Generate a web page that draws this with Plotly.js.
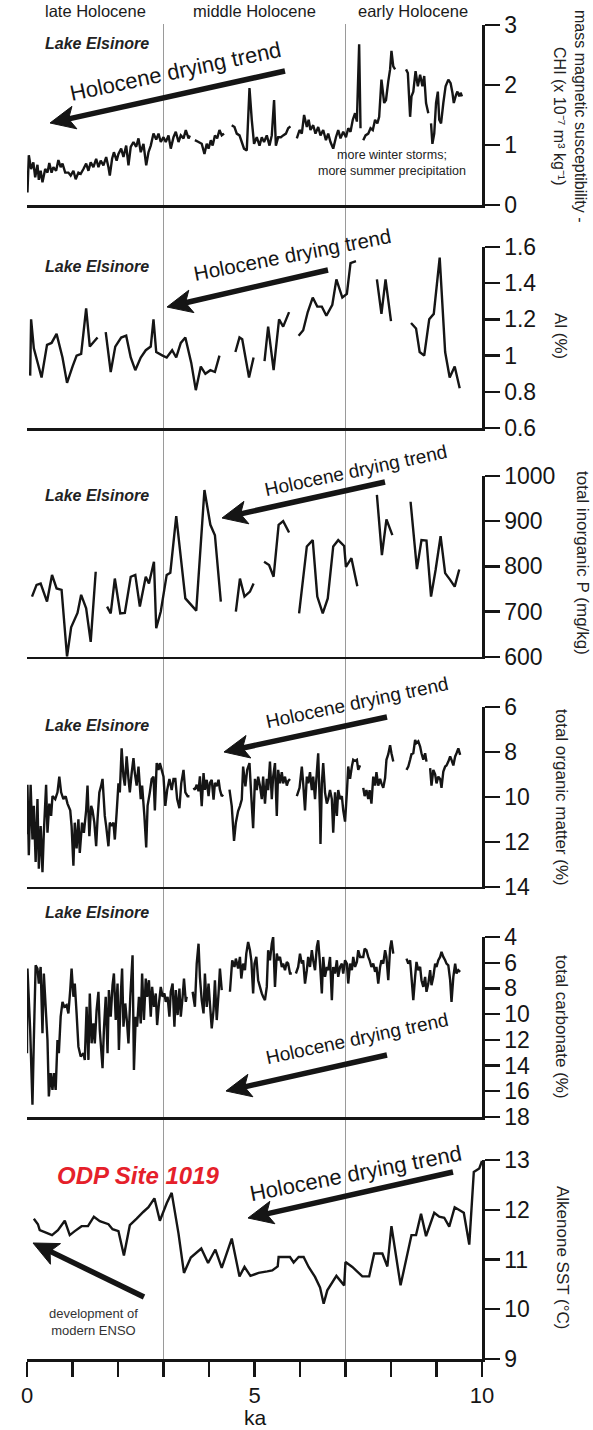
<!DOCTYPE html>
<html><head><meta charset="utf-8">
<script src="https://cdn.plot.ly/plotly-3.0.1.min.js"></script>
<style>html,body{margin:0;padding:0;background:#fff;}#chart{width:593px;height:1430px;}</style>
</head><body><div id="chart"></div>
<script>
// ---------- DATA (age in ka) ----------
const chiKa = [0.01,0.04,0.09,0.14,0.18,0.23,0.26,0.30,0.34,0.40,0.45,0.49,0.54,0.58,0.64,0.69,0.74,0.78,0.84,0.91,0.96,1.02,1.07,1.13,1.18,1.24,1.30,1.35,1.40,1.46,1.52,1.57,1.62,1.68,1.74,1.79,1.82,1.87,1.91,1.97,2.01,2.07,2.12,2.18,2.23,2.28,2.34,2.40,2.45,2.50,2.56,2.62,2.67,2.72,2.78,2.84,2.89,2.94,3.00,3.05,3.11,3.16,3.22,3.27,3.33,3.38,3.44,3.49,3.55,3.58,null,
 3.69,3.77,3.84,3.90,3.95,3.99,4.04,4.08,4.13,4.18,4.23,4.28,4.33,null,
 4.50,4.56,4.61,4.67,4.72,4.77,4.83,4.89,4.94,4.99,5.05,5.11,5.16,5.21,5.27,5.33,5.38,5.43,5.47,5.52,5.58,5.63,5.69,5.74,5.79,null,
 5.93,5.99,6.04,6.09,6.15,6.19,6.23,6.29,6.34,6.40,6.45,6.51,6.57,6.62,6.67,6.73,6.79,6.84,6.89,6.95,7.01,7.06,7.11,7.16,7.21,7.25,7.30,7.33,null,
 7.39,7.44,7.50,7.55,7.60,7.65,7.70,7.74,7.79,7.85,7.89,7.94,7.98,8.01,8.05,8.09,null,
 8.33,8.37,8.42,8.45,8.49,8.54,8.59,8.64,8.69,8.73,8.77,8.82,null,
 8.88,8.91,8.95,8.99,9.03,9.06,9.10,9.15,9.20,9.26,9.31,9.35,9.38,9.43,9.46,9.50,9.53,9.56];
const chiVal = [0.21,0.83,0.60,0.71,0.46,0.67,0.42,0.57,0.38,0.60,0.54,0.70,0.54,0.63,0.57,0.75,0.63,0.69,0.54,0.54,0.49,0.57,0.43,0.54,0.52,0.60,0.69,0.57,0.71,0.63,0.77,0.63,0.74,0.66,0.80,0.63,0.49,0.77,0.88,0.74,0.85,0.94,0.80,0.99,0.66,0.97,1.05,0.97,1.11,0.88,1.02,0.66,0.88,0.99,1.19,1.09,1.19,1.05,1.13,1.05,1.16,0.94,1.13,1.22,1.05,1.16,1.11,1.25,1.11,1.16,null,
 1.08,1.05,1.02,0.85,1.02,0.94,1.08,0.99,1.16,1.11,1.25,1.16,1.19,null,
 1.33,1.30,1.19,1.16,1.05,0.94,0.91,1.95,1.42,1.02,1.13,0.99,1.13,1.05,1.16,0.99,1.16,1.75,0.99,1.13,1.13,1.16,1.19,1.28,1.31,null,
 1.11,1.25,1.19,1.50,1.30,1.42,1.25,1.33,1.19,1.30,1.16,1.25,1.08,1.19,1.05,0.94,1.13,1.25,1.11,1.22,1.13,1.28,1.22,1.42,1.53,1.39,2.68,1.28,null,
 1.08,1.16,1.19,1.28,1.25,1.42,1.36,1.47,2.09,1.70,1.75,2.06,2.26,2.57,2.31,2.26,null,
 2.26,2.20,1.47,1.81,1.89,2.23,1.98,2.17,1.98,2.15,1.70,1.53,null,
 1.36,1.02,1.19,1.70,1.89,1.42,1.36,1.70,1.98,2.09,2.03,1.87,1.70,1.84,1.89,1.81,1.87,1.81];

const alKa = [0.07,0.09,0.15,0.32,0.44,0.54,0.65,0.78,0.88,1.00,1.09,1.19,1.30,1.38,1.55,null,
 1.73,1.84,1.94,2.07,2.18,2.28,2.38,2.50,2.61,2.72,2.78,2.84,2.98,3.07,3.19,3.28,3.38,3.48,3.61,3.71,3.82,3.92,4.03,4.13,4.23,null,
 4.58,4.67,4.73,4.88,4.98,null,
 5.22,5.30,5.42,5.54,5.63,5.76,null,
 5.97,6.07,6.17,6.28,6.38,6.48,6.58,6.71,6.80,6.93,7.03,7.11,7.23,null,
 7.69,7.79,7.88,8.00,null,
 8.44,8.55,8.63,8.73,8.84,8.94,9.07,9.19,9.29,9.40,9.51];
const alVal = [0.89,1.20,1.04,0.88,1.06,1.07,1.12,0.99,0.85,0.94,1.00,1.01,1.26,1.05,1.10,null,
 1.13,0.91,1.05,1.10,1.11,0.99,0.92,0.99,1.03,1.05,1.20,1.02,1.00,0.99,1.03,0.99,1.07,1.10,0.96,0.81,0.94,0.90,0.92,0.91,1.00,null,
 1.02,1.10,1.09,0.88,0.99,null,
 0.97,1.16,0.92,1.20,1.16,1.24,null,
 1.11,1.14,1.24,1.32,1.27,1.27,1.22,1.28,1.42,1.32,1.34,1.51,1.52,null,
 1.42,1.23,1.42,1.19,null,
 1.18,1.15,1.02,1.00,1.20,1.23,1.54,1.02,0.88,0.94,0.82];

const pKa = [0.11,0.21,0.30,0.44,0.55,0.65,0.76,0.88,0.97,1.11,1.19,1.30,1.40,1.51,null,
 1.76,1.84,1.93,2.05,2.15,2.28,2.38,2.48,2.61,2.68,2.79,2.84,2.94,3.07,3.15,3.28,3.48,3.72,3.90,4.03,4.13,4.26,null,
 4.59,4.68,4.78,4.90,4.98,null,
 5.21,5.32,5.42,5.53,5.63,5.76,null,
 5.98,6.15,6.28,6.38,6.50,6.61,6.73,6.84,6.97,7.01,7.13,7.26,null,
 7.69,7.80,7.90,8.03,null,
 8.43,8.57,8.67,8.78,8.88,8.98,9.09,9.19,9.30,9.40,9.50];
const pVal = [733,759,762,722,781,751,748,600,665,697,737,707,633,788,null,
 711,696,773,696,697,777,781,711,777,762,810,663,700,781,786,911,729,702,969,892,869,722,null,
 700,773,733,744,762,null,
 810,803,777,892,900,875,null,
 696,844,858,733,696,729,844,858,845,799,818,756,null,
 958,825,904,869,null,
 943,794,858,857,733,792,867,785,770,755,793];

const omKa = [0.00,0.01,0.04,0.08,0.12,0.15,0.19,0.23,0.26,0.30,0.34,0.37,0.42,0.45,0.49,0.53,0.56,0.62,0.67,0.71,0.75,0.80,0.85,0.89,0.95,0.98,1.02,1.05,1.09,1.13,1.16,1.21,1.25,1.30,1.33,1.37,1.41,1.44,1.48,1.52,1.55,1.59,1.63,1.66,1.71,1.74,1.79,1.82,1.86,1.90,1.93,1.97,2.01,2.04,2.08,2.12,2.15,2.19,2.23,2.26,2.30,2.34,2.37,2.41,2.45,2.50,2.53,2.58,2.62,2.65,2.70,2.74,2.78,2.81,2.85,2.89,2.92,2.96,3.00,3.04,3.08,3.13,3.18,3.22,3.26,3.30,3.35,3.39,3.44,3.48,3.53,3.57,null,
 3.66,3.69,3.73,3.77,3.80,3.84,3.88,3.91,3.95,3.99,4.02,4.06,4.10,4.13,4.17,4.21,4.24,4.28,4.31,null,
 4.45,4.50,4.55,4.59,4.64,4.68,4.72,4.75,4.80,4.84,4.89,4.93,4.97,5.01,5.05,5.08,5.12,5.16,5.19,5.23,5.27,5.30,5.34,5.38,5.41,5.45,5.49,5.52,5.56,5.60,5.63,5.67,5.71,5.74,5.78,null,
 5.93,5.99,6.04,6.07,6.11,6.15,6.18,6.22,6.26,6.29,6.33,6.37,6.40,6.44,6.45,6.48,6.51,6.55,6.59,6.62,6.66,6.70,6.73,6.77,6.81,6.84,6.88,6.92,6.95,6.99,7.03,7.06,7.10,7.14,7.17,7.21,7.25,7.28,7.32,null,
 7.39,7.42,7.46,7.50,7.53,7.57,7.61,7.65,7.68,7.72,7.76,7.79,7.83,7.87,7.90,7.94,7.98,8.01,8.05,null,
 8.34,8.38,8.42,8.45,8.49,8.53,8.56,8.60,8.64,8.67,8.71,8.75,8.78,null,
 8.86,8.89,8.93,8.97,9.00,9.04,9.08,9.11,9.15,9.19,9.22,9.26,9.30,9.33,9.37,9.41,9.44,9.48,9.52];
const omVal = [11.66,9.46,12.6,9.46,11.9,10.4,12.9,10.1,13.2,11.3,13.35,11.6,9.46,11.6,10.3,10.85,9.97,10.1,9.8,9.1,9.8,10.1,9.97,10.3,10.6,11.3,13.06,11.15,12.3,11.0,12.5,11.15,11.6,10.6,9.5,11.75,10.4,10.6,11.15,12.2,11.0,9.8,9.5,9.2,10.85,11.3,12.2,11.15,11.3,11.15,11.9,10.7,9.4,9.8,7.84,9.1,9.5,8.2,9.2,9.8,8.94,8.28,8.94,9.5,8.65,10.1,9.5,10.85,12.25,10.4,9.8,9.2,9.1,10.6,8.5,8.8,8.5,8.8,9.1,10.4,9.7,9.2,9.7,9.2,9.2,10.1,10.5,9.4,8.8,9.8,9.97,9.97,null,
 9.6,9.68,9.46,9.75,9.09,10.41,8.94,9.68,9.24,9.97,9.38,9.24,10.12,9.38,9.53,9.24,9.68,9.97,9.9,null,
 9.68,10.41,11.96,11.15,10.63,10.41,10.12,8.65,9.53,8.79,8.5,10.0,11.4,9.2,9.7,9.1,9.5,10.1,9.1,10.3,9.2,9.7,8.43,10.1,9.1,8.5,10.85,8.8,9.4,8.9,9.4,9.1,9.5,9.3,9.2,null,
 9.97,9.6,8.65,9.4,10.6,9.1,9.4,8.9,9.7,9.1,10.1,8.9,8.06,10.7,12.1,9.4,8.5,9.8,10.3,10.1,9.7,10.1,11.6,9.8,10.85,9.7,10.1,9.97,10.6,11.1,9.8,8.65,9.2,8.65,8.35,8.4,8.35,8.8,8.6,null,
 9.6,9.97,9.7,10.1,9.7,10.3,9.1,9.5,8.9,9.5,9.2,9.4,9.6,9.16,8.35,8.1,7.7,8.06,8.43,null,
 8.8,8.65,8.35,8.1,8.06,7.47,7.6,7.53,7.76,8.06,8.35,8.06,8.43,null,
 8.72,9.5,8.8,9.0,9.4,9.1,9.2,9.6,8.87,8.65,8.6,8.43,8.2,8.35,8.6,8.2,8.06,7.84,8.13];

const carbKa = [0.00,0.01,0.07,0.12,0.15,0.19,0.23,0.26,0.30,0.34,0.37,0.41,0.45,0.48,0.52,0.56,0.59,0.63,0.67,0.70,0.74,0.78,0.82,0.87,0.91,0.95,0.98,1.02,1.05,1.09,1.13,1.18,1.24,1.27,1.31,1.35,1.38,1.42,1.46,1.49,1.53,1.57,1.60,1.66,1.69,1.73,1.77,1.80,1.84,1.88,1.91,1.95,1.99,2.02,2.06,2.09,2.12,2.16,2.20,2.23,2.27,2.32,2.35,2.39,2.42,2.46,2.50,2.53,2.57,2.61,2.64,2.68,2.72,2.75,2.79,2.83,2.86,2.90,2.94,2.98,3.02,3.05,3.09,3.13,3.16,3.20,3.24,3.27,3.31,3.35,3.38,3.42,3.45,3.49,3.51,null,
 3.64,3.69,3.73,3.77,3.80,3.84,3.88,3.91,3.95,3.99,4.02,4.06,4.10,4.13,4.17,4.21,4.24,4.28,null,
 4.46,4.51,4.56,4.59,4.64,4.68,4.71,4.75,4.79,4.82,4.86,4.90,4.93,4.97,5.00,5.04,5.08,5.12,5.16,5.19,5.23,5.27,5.30,5.34,5.38,5.41,5.45,5.49,5.52,5.56,5.60,5.63,5.67,5.71,5.74,5.78,5.82,null,
 5.91,5.96,6.00,6.04,6.07,6.11,6.15,6.18,6.22,6.26,6.29,6.33,6.37,6.40,6.44,6.48,6.51,6.55,6.59,6.62,6.66,6.70,6.73,6.77,6.81,6.84,6.88,6.92,6.95,6.99,7.03,7.06,7.10,7.14,7.17,7.21,7.25,7.28,7.32,7.39,7.42,7.46,7.50,7.53,7.57,7.61,7.65,7.68,7.72,7.76,7.79,7.83,7.87,7.90,7.94,7.98,8.01,8.05,null,
 8.34,8.38,8.42,8.45,8.49,8.53,8.56,8.60,8.64,8.67,8.71,8.75,8.78,8.82,8.86,8.89,8.93,8.97,9.00,9.04,9.08,9.11,9.15,9.19,9.22,9.26,9.30,9.33,9.37,9.41,9.44,9.48,9.52];
const carbVal = [13.04,6.45,11.24,17.05,12.01,6.20,6.45,7.62,6.33,11.49,6.84,9.43,12.01,16.40,14.59,15.89,14.59,15.89,12.01,13.04,10.20,9.04,9.43,9.30,9.94,8.13,6.45,8.65,7.62,9.94,12.53,13.30,13.04,13.56,9.43,13.56,8.39,12.27,10.72,12.27,9.68,8.26,11.24,14.21,11.24,8.65,13.04,8.13,10.20,7.75,6.84,10.46,7.62,12.79,8.65,6.45,10.98,9.17,10.72,12.27,8.65,5.42,14.34,10.20,10.98,8.65,10.72,6.84,10.46,7.23,8.65,7.36,10.20,7.88,9.43,8.39,10.85,9.17,7.88,8.65,8.39,9.04,8.65,10.20,8.26,7.62,10.98,8.13,10.07,8.01,10.20,8.65,7.23,9.04,8.65,null,
 8.26,9.43,6.07,4.52,7.10,8.91,9.94,6.84,9.43,7.62,9.17,11.11,9.68,7.36,10.46,8.39,6.45,8.13,null,
 8.26,5.81,6.33,5.68,6.45,5.55,7.23,6.07,6.58,5.29,4.39,5.03,5.81,8.39,6.07,5.55,7.36,7.88,8.39,8.65,8.91,7.88,5.03,5.81,4.52,4.00,7.88,5.29,5.81,5.55,6.33,6.07,6.58,5.94,6.07,6.84,6.84,null,
 6.84,6.33,5.29,6.07,5.81,7.62,6.58,5.55,6.33,5.03,5.81,6.58,4.78,4.26,6.07,8.39,5.55,7.10,6.33,6.58,5.55,8.91,6.33,6.84,5.81,7.10,6.33,6.07,6.84,5.81,6.07,7.62,6.07,6.58,5.55,6.33,5.94,5.03,5.55,5.55,4.91,5.03,5.55,5.81,6.33,6.07,6.71,6.33,7.62,6.33,5.81,6.07,5.03,5.55,7.36,4.91,4.26,5.29,null,
 5.68,6.07,5.81,7.10,8.91,7.10,5.94,6.58,6.33,7.36,7.88,7.10,8.26,7.62,6.58,7.75,7.10,6.07,6.33,5.81,5.55,5.16,5.55,5.81,6.07,6.20,7.36,9.04,7.10,6.07,6.84,6.58,6.71];

const sstKa = [0.15,0.24,0.28,0.39,0.55,0.68,0.83,0.94,1.05,1.20,1.34,1.47,1.60,1.79,1.88,2.01,2.13,2.26,2.41,2.56,2.67,2.80,2.92,3.07,3.18,3.33,3.45,3.60,3.83,3.98,4.14,4.28,4.50,4.67,4.78,4.91,5.09,5.28,5.39,5.51,5.53,5.78,5.86,5.97,6.08,6.19,6.33,6.44,6.52,6.60,6.80,6.97,7.00,7.15,7.37,7.52,7.63,7.81,7.92,8.01,8.21,8.45,8.55,8.66,8.77,8.95,9.06,9.17,9.28,9.40,9.60,9.72,9.82,9.94,10.0];
const sstVal = [11.82,11.71,11.59,11.55,11.49,11.59,11.78,11.49,11.57,11.67,11.67,11.86,11.77,11.71,11.61,11.57,11.08,11.69,11.82,11.96,12.05,12.23,11.78,12.13,12.34,11.52,10.73,11.04,11.22,10.93,11.20,10.83,11.42,10.66,10.85,10.67,10.73,10.76,10.78,10.86,11.05,11.05,10.94,11.05,11.05,10.85,10.65,10.44,10.11,10.38,10.67,10.48,10.95,10.85,10.66,10.66,11.12,11.12,10.86,11.67,10.48,11.49,11.49,11.92,11.47,11.94,11.86,11.84,11.66,12.05,11.94,11.30,12.76,12.83,12.98];

const kaLabelTicks = [0, 5, 10];
const kaLabelText = ['0', '5', '10'];
const periodLabels = ['late Holocene', 'middle Holocene', 'early Holocene'];
const boundaries = [3, 7];

// ---------- LAYOUT ----------
const W = 593, H = 1430;
const pxX = x => x / W, pxY = y => 1 - y / H;
const XL = 27, XR = 482;
const FONT = '"Liberation Sans", Arial, Helvetica, sans-serif';
const INK = '#151515';

const panels = [
  {ka: chiKa, v: chiVal, top: 25, bot: 205, range: [0, 3], tv: [0,1,2,3], tt: ['0','1','2','3']},
  {ka: alKa, v: alVal, top: 246.7, bot: 428.3, range: [0.6, 1.6], tv: [0.6,0.8,1,1.2,1.4,1.6], tt: ['0.6','0.8','1','1.2','1.4','1.6']},
  {ka: pKa, v: pVal, top: 476, bot: 656.7, range: [600, 1000], tv: [600,700,800,900,1000], tt: ['600','700','800','900','1000']},
  {ka: omKa, v: omVal, top: 707, bot: 886.7, range: [14, 6], tv: [6,8,10,12,14], tt: ['6','8','10','12','14']},
  {ka: carbKa, v: carbVal, top: 937, bot: 1117, range: [18, 4], tv: [4,6,8,10,12,14,16,18], tt: ['4','6','8','10','12','14','16','18']},
  {ka: sstKa, v: sstVal, top: 1160, bot: 1359, range: [9, 13], tv: [9,10,11,12,13], tt: ['9','10','11','12','13']}
];

const traces = [];
const layout = {
  width: W, height: H,
  margin: {l: 0, r: 0, t: 0, b: 0},
  paper_bgcolor: '#fff', plot_bgcolor: 'rgba(0,0,0,0)',
  showlegend: false,
  font: {family: FONT, color: INK},
  shapes: [], annotations: []
};

panels.forEach((p, i) => {
  const n = i + 1;
  const xs = n === 1 ? '' : String(n);
  traces.push({
    x: p.ka, y: p.v, xaxis: 'x' + xs, yaxis: 'y' + xs,
    type: 'scatter', mode: 'lines', connectgaps: false, hoverinfo: 'skip',
    line: {color: INK, width: 2.4, simplify: false}
  });
  const last = n === panels.length;
  const xa = {
    domain: [pxX(XL), pxX(XR)], range: [0, 10], anchor: 'y' + xs,
    showline: true, linewidth: 2.6, linecolor: INK,
    showgrid: false, zeroline: false, fixedrange: true
  };
  if (last) {
    Object.assign(xa, {ticks: 'outside', ticklen: 15, tickwidth: 2.4, tickcolor: INK,
      tickmode: 'array', tickvals: kaLabelTicks, ticktext: kaLabelText,
      tickfont: {size: 22, color: INK, family: FONT},
      minor: {dtick: 1, tick0: 0, ticks: 'outside', ticklen: 15, tickwidth: 2.4, tickcolor: INK, showgrid: false}});
  } else {
    Object.assign(xa, {ticks: '', showticklabels: false});
  }
  if (n > 1) xa.matches = 'x';
  layout['xaxis' + xs] = xa;
  layout['yaxis' + xs] = {
    domain: [pxY(p.bot), pxY(p.top)], range: p.range, anchor: 'x' + xs, side: 'right',
    showline: true, linewidth: 2.6, linecolor: INK,
    ticks: 'outside', ticklen: 15, tickwidth: 2.4, tickcolor: INK,
    tickmode: 'array', tickvals: p.tv, ticktext: p.tt,
    tickfont: {size: 23, color: INK, family: FONT},
    showgrid: false, zeroline: false, fixedrange: true
  };
});

// period boundaries
boundaries.forEach(b => layout.shapes.push({
  type: 'line', xref: 'x', yref: 'paper', x0: b, x1: b, y0: pxY(1359), y1: pxY(24),
  line: {color: '#9a9a9a', width: 1}, layer: 'below'
}));

const ann = (x, y, text, opt) => layout.annotations.push(Object.assign({
  xref: 'paper', yref: 'paper', x: pxX(x), y: pxY(y), text: text, showarrow: false,
  xanchor: 'center', yanchor: 'middle', font: {size: 15, color: INK, family: FONT}
}, opt || {}));

// period headers
[[95, 0], [254, 1], [413, 2]].forEach(([x, k]) => ann(x, 11, periodLabels[k], {font: {size: 16.5, color: '#1a1a1a', family: FONT}}));

// site labels
[43, 266.7, 495, 725, 912].forEach(y => ann(43, y, '<b><i>Lake Elsinore</i></b>', {xanchor: 'left', font: {size: 16, color: '#222', family: FONT}}));
ann(55, 1175, '<b><i>ODP Site 1019</i></b>', {xanchor: 'left', font: {size: 24, color: '#e5202a', family: FONT}});

// axis titles (rotated)
ann(570, 116, 'mass magnetic susceptibility -<br>CHI (x 10⁻⁷ m³ kg⁻¹)', {textangle: 90, font: {size: 16, color: '#222', family: FONT}});
ann(561, 336, 'Al (%)', {textangle: 90, font: {size: 17, color: '#222', family: FONT}});
ann(583, 563, 'total inorganic P (mg/kg)', {textangle: 90, font: {size: 17, color: '#222', family: FONT}});
ann(562, 797, 'total organic matter (%)', {textangle: 90, font: {size: 17, color: '#222', family: FONT}});
ann(562, 1027, 'total carbonate (%)', {textangle: 90, font: {size: 17, color: '#222', family: FONT}});
ann(563, 1258, 'Alkenone SST (°C)', {textangle: 90, font: {size: 17, color: '#222', family: FONT}});

// x title
ann(255, 1431, 'ka', {yanchor: 'bottom', font: {size: 21, color: INK, family: FONT}});

// notes
ann(392, 163, 'more winter storms;<br>more summer precipitation', {font: {size: 12.5, color: '#222', family: FONT}});
ann(93, 1322, 'development of<br>modern ENSO', {font: {size: 13, color: '#333', family: FONT}});

// arrows drawn as shapes: head (hx,hy) and tail (tx,ty) in pixels
const arrow = (hx, hy, tx, ty) => {
  const dx = hx - tx, dy = hy - ty, len = Math.hypot(dx, dy);
  const ux = dx / len, uy = dy / len, nx = -uy, ny = ux;
  const L = 25, Wd = 11.5, notch = 6;
  const bx = hx - ux * (L - notch), by = hy - uy * (L - notch);
  layout.shapes.push({type: 'line', xref: 'paper', yref: 'paper',
    x0: pxX(tx), y0: pxY(ty), x1: pxX(bx + ux), y1: pxY(by + uy),
    line: {color: INK, width: 5.5}});
  const pts = [[hx, hy], [hx - ux * L + nx * Wd, hy - uy * L + ny * Wd], [bx, by], [hx - ux * L - nx * Wd, hy - uy * L - ny * Wd]];
  const path = 'M' + pts.map(q => pxX(q[0]).toFixed(5) + ',' + pxY(q[1]).toFixed(5)).join(' L') + ' Z';
  layout.shapes.push({type: 'path', xref: 'paper', yref: 'paper', path: path,
    fillcolor: INK, line: {color: INK, width: 1}});
};
const trendText = (x, y, size, ang) => ann(x, y, 'Holocene drying trend', {textangle: ang, font: {size: size, color: INK, family: FONT}});

arrow(50, 123, 285, 71);     trendText(175, 72, 22, -12);
arrow(167, 307, 328, 270);   trendText(292, 254, 20.5, -11);
arrow(222, 518, 385, 482);   trendText(356, 471, 19, -12);
arrow(224, 752, 387, 717);   trendText(357, 702, 19, -12);
arrow(226, 1091, 387, 1055); trendText(357, 1038, 19, -12);
arrow(248, 1218, 453, 1172); trendText(355, 1173, 22, -11);
arrow(33, 1243, 144, 1297);

Plotly.newPlot('chart', traces, layout, {staticPlot: true, displayModeBar: false});
</script>
</body></html>
